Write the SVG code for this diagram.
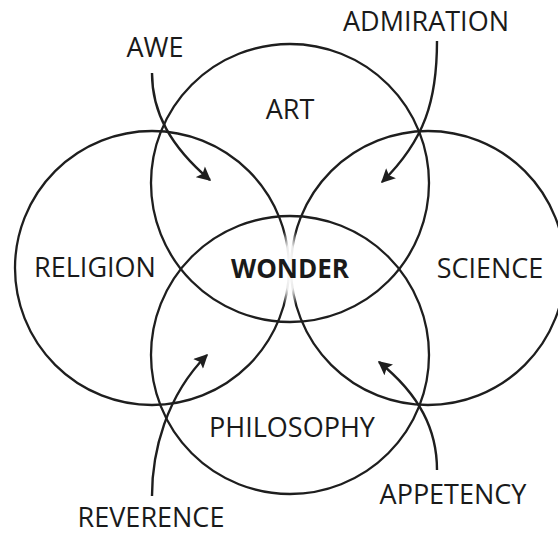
<svg xmlns="http://www.w3.org/2000/svg" width="558" height="535" viewBox="0 0 558 535">
<defs>
<style>
.c{fill:none;stroke:#1e1e1e;stroke-width:2.3}
.a{fill:none;stroke:#1e1e1e;stroke-width:2.4;marker-end:url(#ah)}
text{font-family:"Open Sans","Noto Sans","Liberation Sans",sans-serif;font-size:27px;fill:#1a1a1a;text-anchor:middle}
.b{font-weight:bold;font-size:26px}
</style>
<marker id="ah" viewBox="0 0 10 10" refX="9" refY="5" markerWidth="15" markerHeight="14" markerUnits="userSpaceOnUse" orient="auto">
<path d="M0,0 L10,5 L0,10 L2,5 z" fill="#1e1e1e"/>
</marker>
<radialGradient id="fade" cx="0.5" cy="0.5" r="0.5">
<stop offset="0" stop-color="#fff" stop-opacity="1"/>
<stop offset="0.55" stop-color="#fff" stop-opacity="0.9"/>
<stop offset="1" stop-color="#fff" stop-opacity="0"/>
</radialGradient>
</defs>
<rect width="558" height="535" fill="#fff"/>
<g id="circles">
<circle id="art" class="c" cx="290" cy="183" r="139"/>
<circle id="religion" class="c" cx="152" cy="268" r="137"/>
<circle id="science" class="c" cx="428" cy="268" r="137"/>
<circle id="philosophy" class="c" cx="290" cy="355" r="139"/>
</g>
<ellipse cx="290" cy="268" rx="12" ry="42" fill="url(#fade)"/>
<g id="connectors">
<path class="a" d="M152,73 C152,112 170,146 210,180"/>
<path class="a" d="M437,41 C437,100 425,140 382,182"/>
<path class="a" d="M152,496 C152,452 166,396 207,355"/>
<path class="a" d="M437,470 C437,430 420,395 379,362"/>
</g>
<g id="labels">
<g id="n-awe"><text x="155" y="57">AWE</text></g>
<g id="n-admiration"><text x="426" y="31">ADMIRATION</text></g>
<g id="n-art"><text x="290" y="119">ART</text></g>
<g id="n-religion"><text x="95" y="277">RELIGION</text></g>
<g id="n-wonder"><text class="b" x="290" y="278">WONDER</text></g>
<g id="n-science"><text x="490" y="278">SCIENCE</text></g>
<g id="n-philosophy"><text x="292" y="437">PHILOSOPHY</text></g>
<g id="n-reverence"><text x="151" y="527">REVERENCE</text></g>
<g id="n-appetency"><text x="453" y="504">APPETENCY</text></g>
</g>
</svg>
